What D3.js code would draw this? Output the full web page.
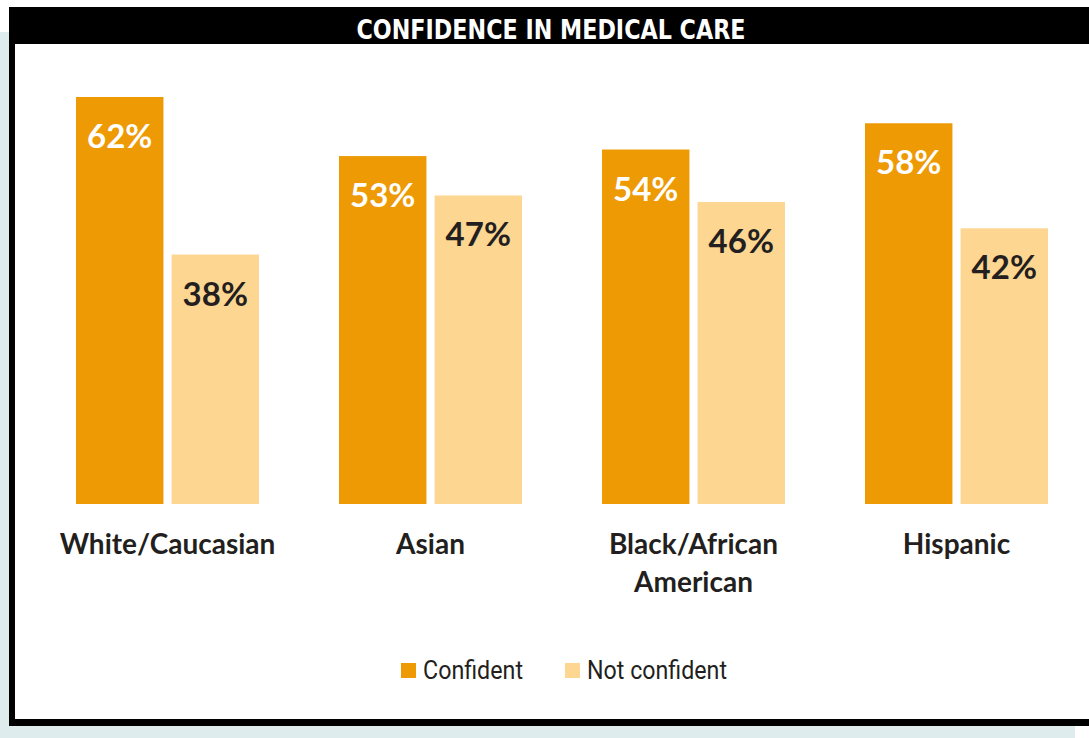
<!DOCTYPE html>
<html>
<head>
<meta charset="utf-8">
<script src="https://cdn.jsdelivr.net/npm/d3@7"></script>
<style>
  body { margin: 0; background: #fff; }
  svg { display: block; }
</style>
</head>
<body>
<div class="chart"></div>
<script>
// data
var categories = ["White/Caucasian", "Asian", "Black/African American", "Hispanic"];
var series = ["Confident", "Not confident"];
var confident = [62, 53, 54, 58];
var notConfident = [38, 47, 46, 42];
var colors = ["#ed9a05", "#fdd691"];
var labelColors = ["#ffffff", "#231f20"];

var W = 1089, H = 738;

var svg = d3.select(".chart").append("svg")
    .attr("width", W)
    .attr("height", H);

// page backdrop + framed box
svg.append("rect")
    .attr("x", 0).attr("y", 32)
    .attr("width", 1075).attr("height", H - 32)
    .style("fill", "#dfeced");
svg.append("rect")
    .attr("x", 9).attr("y", 7)
    .attr("width", W).attr("height", 719)
    .style("fill", "#000");
svg.append("rect")
    .attr("x", 15).attr("y", 44)
    .attr("width", W).attr("height", 675)
    .style("fill", "#fff");

svg.append("text")
    .attr("x", 551).attr("y", 39)
    .attr("text-anchor", "middle")
    .attr("textLength", 389)
    .attr("lengthAdjust", "spacingAndGlyphs")
    .style("font-family", "'Liberation Sans Narrow', 'DejaVu Sans Condensed', sans-serif")
    .style("font-weight", "bold")
    .style("font-size", "26px")
    .style("fill", "#fff")
    .text("CONFIDENCE IN MEDICAL CARE");

var x0 = d3.scaleBand()
    .domain(categories)
    .range([36, 1088]);

var x1 = d3.scaleBand()
    .domain(series)
    .range([0, 183])
    .paddingInner(0.085);

var y = d3.scaleLinear()
    .domain([0, 62])
    .range([504, 97]);

var rows = categories.map(function(c, i) {
    return { cat: c, values: [confident[i], notConfident[i]] };
});

var groups = svg.append("g")
    .attr("id", "bars")
    .selectAll("g")
    .data(rows)
    .enter().append("g")
    .attr("transform", function(d) {
        return "translate(" + (x0(d.cat) + x0.bandwidth() / 2 - 91.5) + ",0)";
    });

var cells = groups.selectAll("g")
    .data(function(d) {
        return d.values.map(function(v, j) { return { s: series[j], v: v, j: j }; });
    })
    .enter().append("g");

cells.append("rect")
    .attr("x", function(d) { return x1(d.s); })
    .attr("y", function(d) { return y(d.v); })
    .attr("width", x1.bandwidth())
    .attr("height", function(d) { return y(0) - y(d.v); })
    .style("fill", function(d) { return colors[d.j]; });

cells.append("text")
    .attr("x", function(d) { return x1(d.s) + x1.bandwidth() / 2; })
    .attr("y", function(d) { return y(d.v) + 51; })
    .attr("text-anchor", "middle")
    .style("font-family", "Lato, sans-serif")
    .style("font-weight", "bold")
    .style("font-size", "33px")
    .style("fill", function(d) { return labelColors[d.j]; })
    .text(function(d) { return d.v + "%"; });

// category labels, two lines for the long one
var catLines = [["White/Caucasian"], ["Asian"], ["Black/African", "American"], ["Hispanic"]];

svg.append("g")
    .attr("id", "categories")
    .selectAll("text")
    .data(categories)
    .enter().append("text")
    .attr("x", function(d) { return x0(d) + x0.bandwidth() / 2; })
    .attr("y", 554)
    .attr("text-anchor", "middle")
    .style("font-family", "Lato, sans-serif")
    .style("font-weight", "bold")
    .style("font-size", "28px")
    .style("fill", "#231f20")
    .each(function(d, i) {
        var t = d3.select(this);
        catLines[i].forEach(function(line, k) {
            t.append("tspan")
                .attr("x", x0(d) + x0.bandwidth() / 2)
                .attr("dy", k === 0 ? 0 : 38)
                .text(line);
        });
    });

// legend
var legendX = [401, 565];
var legendW = [100, 140];
var legend = svg.append("g")
    .attr("id", "legend")
    .selectAll("g")
    .data(series)
    .enter().append("g")
    .attr("transform", function(d, i) { return "translate(" + legendX[i] + ",0)"; });

legend.append("rect")
    .attr("x", 0).attr("y", 663)
    .attr("width", 15).attr("height", 15)
    .style("fill", function(d, i) { return colors[i]; });

legend.append("text")
    .attr("x", 22).attr("y", 679)
    .attr("textLength", function(d, i) { return legendW[i]; })
    .attr("lengthAdjust", "spacingAndGlyphs")
    .style("font-family", "'Liberation Sans Narrow', 'Roboto', sans-serif")
    .style("font-size", "25px")
    .style("fill", "#231f20")
    .text(function(d) { return d; });
</script>
</body>
</html>
